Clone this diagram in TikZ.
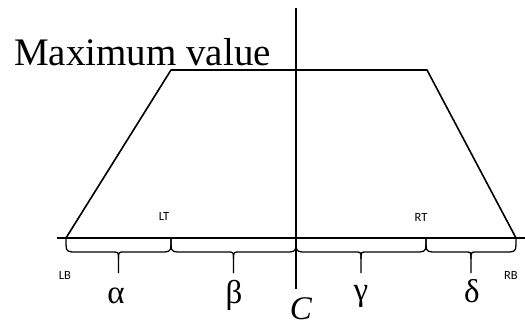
\documentclass[tikz,border=0pt]{standalone}
\usepackage{fontspec}
\setmainfont{Liberation Serif}
\newfontfamily\smallsans{Carlito}
\tikzset{
  shape line/.style={line width=1.6pt, line join=round},
  axis line/.style={line width=1.4pt},
  brace line/.style={line width=1.3pt},
  tag/.style={font=\smallsans\fontsize{12.5}{14}\selectfont, inner sep=0pt},
  greek/.style={font=\fontsize{33}{36}\selectfont, inner sep=0pt, anchor=base},
}
\newcommand{\mybrace}[2]{%
  \draw[brace line] (#1,238) .. controls (#1,251) .. ({#1+6},252) -- ({(#1+#2)/2-6},252)
     .. controls ({(#1+#2)/2},252) .. ({(#1+#2)/2},259) -- ({(#1+#2)/2},273);
  \draw[brace line] (#2,238) .. controls (#2,251) .. ({#2-6},252) -- ({(#1+#2)/2+6},252)
     .. controls ({(#1+#2)/2},252) .. ({(#1+#2)/2},259);
}
\begin{document}
\begin{tikzpicture}[x=1pt,y=-1pt]
\useasboundingbox (0,0) rectangle (525,326);
% key points
\coordinate (LB) at (66,238);
\coordinate (LT) at (171,70);
\coordinate (RT) at (427,70);
\coordinate (RB) at (516,238);
\coordinate (Ctop) at (296,8);
\coordinate (Cbot) at (296,289);
\coordinate (Aleft) at (57,238);
\coordinate (Aright) at (525,238);
% trapezoid
\draw[shape line] (LB) -- (LT) -- (RT) -- (RB);
% axis
\draw[axis line] (Aleft) -- (Aright);
\draw[axis line] (Ctop) -- (Cbot);
% braces
\mybrace{66}{171}
\mybrace{171}{296}
\mybrace{296}{426}
\mybrace{426}{516}
% labels
\node[anchor=base west, inner sep=0pt, font=\fontsize{39}{42}\selectfont] (maxv) at (14,66) {Maximum value};
\node[tag] (lt) at (164,216) {LT};
\node[tag] (rt) at (421,217) {RT};
\node[tag] (lb) at (65,275) {LB};
\node[tag] (rb) at (511,275) {RB};
\node[greek] (al) at (116,303) {α};
\node[greek] (be) at (234,303) {β};
\node[greek] (ga) at (361,300) {γ};
\node[greek] (de) at (472,302) {δ};
\node[anchor=base, inner sep=0pt, font=\itshape\fontsize{33}{36}\selectfont] (c) at (301,319) {C};
\end{tikzpicture}
\end{document}
